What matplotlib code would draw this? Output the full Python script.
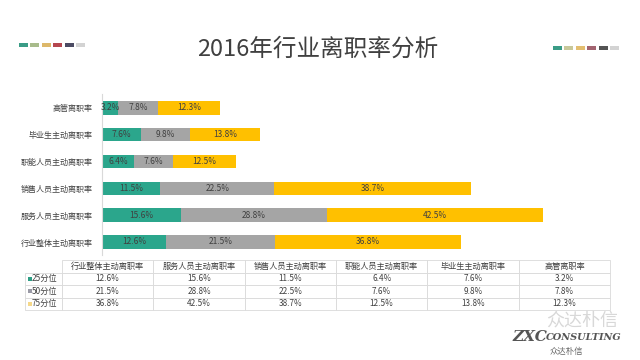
import matplotlib
matplotlib.use('Agg')
import matplotlib.pyplot as plt
from matplotlib.patches import Rectangle
from matplotlib.table import Table

plt.rcParams['font.family'] = ['Noto Sans CJK SC', 'DejaVu Sans']

# data (bottom to top in the chart, left to right in the table)
categories = ['行业整体主动离职率', '服务人员主动离职率', '销售人员主动离职率',
              '职能人员主动离职率', '毕业生主动离职率', '高管离职率']
p25 = [12.6, 15.6, 11.5, 6.4, 7.6, 3.2]
p50 = [21.5, 28.8, 22.5, 7.6, 9.8, 7.8]
p75 = [36.8, 42.5, 38.7, 12.5, 13.8, 12.3]
series_names = ['25分位', '50分位', '75分位']
title = '2016年行业离职率分析'

colors = ['#2BA68C', '#A5A5A5', '#FFC000']
legend_marks = ['#2E9E85', '#9A9AA6', '#F5D889']
text_col = '#404040'
deco_left = ['#3A9C86', '#A8BB8B', '#DDB86A', '#B5474F', '#4B4B63', '#D3D3D3']
deco_right = ['#3A9C86', '#C8C89A', '#E3BE70', '#A26470', '#545454', '#D3D3D3']

W, H = 640, 360
fig = plt.figure(figsize=(6.4, 3.6), dpi=100)

# overlay for decorations and title, in pixel coords
deco = fig.add_axes([0, 0, 1, 1])
deco.set_xlim(0, W)
deco.set_ylim(H, 0)
deco.axis('off')
for i, c in enumerate(deco_left):
    deco.add_patch(Rectangle((19 + i * 11.4, 43), 9, 4, color=c, lw=0))
for i, c in enumerate(deco_right):
    deco.add_patch(Rectangle((553 + i * 11.4, 46), 9, 4, color=c, lw=0))
deco.text(318, 49, title, ha='center', va='center', fontsize=17, color=text_col)

# watermark
deco.text(582, 322, '众达朴信', ha='center', va='center', fontsize=13, color='#D8D8D8')
deco.text(512, 337, 'ZXC', ha='left', va='center', fontsize=11, color='#555555',
          family='DejaVu Serif', weight='bold', style='italic')
deco.text(546, 338, 'CONSULTING', ha='left', va='center', fontsize=7, color='#555555',
          family='DejaVu Serif', weight='bold', style='italic')
deco.text(566, 351, '众达朴信', ha='center', va='center', fontsize=6, color='#666666')

# bar chart
ax = fig.add_axes([102 / W, 1 - 255.4 / H, 507 / W, 161 / H])
y = range(len(categories))
left = [0] * len(categories)
for vals, col in zip([p25, p50, p75], colors):
    bars = ax.barh(y, vals, left=left, height=0.5, color=col)
    ax.bar_label(bars, labels=[f'{v:.1f}%' for v in vals], label_type='center',
                 fontsize=6, color=text_col)
    left = [a + b for a, b in zip(left, vals)]
ax.set_xlim(0, 100)
ax.set_ylim(-0.5, len(categories) - 0.5)
ax.set_yticks(list(y))
ax.set_yticklabels(categories, fontsize=5.8, color=text_col)
ax.tick_params(axis='y', length=0, pad=6.5)
ax.set_xticks([])
for s in ['top', 'right', 'bottom']:
    ax.spines[s].set_visible(False)
ax.spines['left'].set_color('#D9D9D9')
ax.spines['left'].set_linewidth(0.8)

# data table under the chart
tax = fig.add_axes([25 / W, 1 - 310 / H, 585 / W, 50 / H])
tax.set_xlim(0, 585)
tax.set_ylim(0, 4)
tax.axis('off')
lab_w = 37 / 585
col_w = (1 - lab_w) / len(categories)
# bbox covers the data cells only; the label column sits left of it
tbl = Table(tax, bbox=[lab_w, 0, 1 - lab_w, 1])
edge = '#D9D9D9'
for j, name in enumerate(categories):
    c = tbl.add_cell(0, j, col_w, 0.25, text=name, loc='center', edgecolor=edge)
    c.get_text().set_color(text_col)
for i, vals in enumerate([p25, p50, p75]):
    c = tbl.add_cell(i + 1, -1, lab_w, 0.25, text=series_names[i], loc='left', edgecolor=edge)
    c.PAD = 0.19
    c.get_text().set_color(text_col)
    for j, v in enumerate(vals):
        c = tbl.add_cell(i + 1, j, col_w, 0.25, text=f'{v:.1f}%', loc='center', edgecolor=edge)
        c.get_text().set_color(text_col)
for cell in tbl.get_celld().values():
    cell.set_linewidth(0.6)
tbl.auto_set_font_size(False)
tbl.set_fontsize(5.9)
tax.add_table(tbl)
for i, mc in enumerate(legend_marks):
    tax.add_patch(Rectangle((3, 2.5 - i - 0.17), 3.5, 0.34, color=mc, lw=0))

fig.savefig('out.png', dpi=100)
